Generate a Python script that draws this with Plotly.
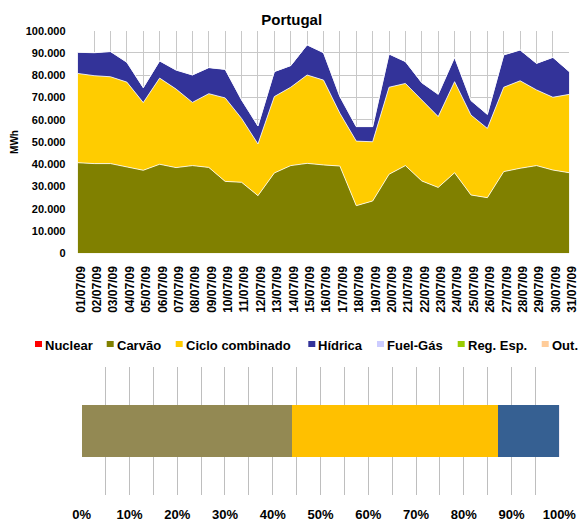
import plotly.graph_objects as go

# ---------------- data ----------------
dates = ["01/07/09", "02/07/09", "03/07/09", "04/07/09", "05/07/09", "06/07/09",
         "07/07/09", "08/07/09", "09/07/09", "10/07/09", "11/07/09", "12/07/09",
         "13/07/09", "14/07/09", "15/07/09", "16/07/09", "17/07/09", "18/07/09",
         "19/07/09", "20/07/09", "21/07/09", "22/07/09", "23/07/09", "24/07/09",
         "25/07/09", "26/07/09", "27/07/09", "28/07/09", "29/07/09", "30/07/09",
         "31/07/09"]

carvao = [40700, 40300, 40300, 38900, 37300, 40000, 38500, 39400, 38600, 32300,
          31900, 25900, 36100, 39400, 40400, 39700, 39200, 21400, 23500, 35500,
          39400, 32500, 29600, 36200, 26200, 25000, 36700, 38200, 39400, 37400,
          36200]

ciclo = [40100, 39500, 39000, 38000, 30400, 38700, 35300, 28400, 33100, 37500,
         28700, 23200, 34300, 35200, 39700, 38100, 23700, 29000, 26600, 39100,
         36900, 36400, 31800, 40900, 35900, 31100, 37900, 39300, 34000, 32700,
         35200]

hidrica = [9500, 10300, 11300, 8900, 6700, 7700, 8500, 12300, 11700, 12800,
           8300, 8100, 11200, 9700, 13500, 12300, 7500, 6500, 6800, 14900,
           9800, 7700, 10000, 10900, 6500, 6300, 14500, 13800, 11900, 17900,
           10200]

fuel_gas = [110, 95, 120, 80, 60, 100, 105, 90, 115, 130, 85, 70, 95, 110, 125,
            100, 75, 60, 65, 120, 110, 90, 85, 115, 70, 60, 130, 120, 100, 140, 95]

legend_names = ["Nuclear", "Carvão", "Ciclo combinado", "Hídrica", "Fuel-Gás",
                "Reg. Esp.", "Out."]

y_ticks = [0, 10000, 20000, 30000, 40000, 50000, 60000, 70000, 80000, 90000, 100000]
pct_ticks = [0, 10, 20, 30, 40, 50, 60, 70, 80, 90, 100]
pct_labels = ["0%", "10%", "20%", "30%", "40%", "50%", "60%", "70%", "80%",
              "90%", "100%"]

# ---------------- styles ----------------
W, H = 582, 524
FONT = "Liberation Sans, Arial, sans-serif"
area_colors = {"Carvão": "#808000", "Ciclo combinado": "#FFCC00",
               "Hídrica": "#333399", "Fuel-Gás": "#CCCCFF"}
legend_colors = ["#FF0000", "#808000", "#FFCC00", "#333399", "#CCCCFF",
                 "#99CC00", "#FFCC99"]
bar_colors = {"Carvão": "#938953", "Ciclo combinado": "#FFC000",
              "Hídrica": "#366092", "Fuel-Gás": "#CCC0DA"}
legend_x_px = [35, 106.7, 175.7, 308.3, 377, 457.7, 541.7]

def px_x(p):
    return p / W

def px_y(p):
    return 1 - p / H

fig = go.Figure()

series = [("Carvão", carvao), ("Ciclo combinado", ciclo),
          ("Hídrica", hidrica), ("Fuel-Gás", fuel_gas)]

for name, vals in series:
    fig.add_trace(go.Scatter(
        x=dates, y=vals, name=name, stackgroup="one", mode="lines",
        line=dict(color="white", width=0.8), fillcolor=area_colors[name],
        showlegend=False, xaxis="x", yaxis="y"))

for name, vals in series:
    fig.add_trace(go.Bar(
        x=[sum(vals)], y=[0], orientation="h", name=name,
        marker=dict(color=bar_colors[name], line=dict(width=0)),
        width=0.4, showlegend=False, xaxis="x2", yaxis="y2"))

grid = "#C8C8C8"

fig.update_layout(
    template="none",
    width=W, height=H, autosize=False,
    margin=dict(l=0, r=0, t=0, b=0),
    paper_bgcolor="white", plot_bgcolor="white",
    separators=",.",
    font=dict(family=FONT, color="black"),
    barmode="stack", barnorm="percent",
    showlegend=False,
    title=dict(text="Portugal", x=px_x(291.7), xanchor="center",
               y=px_y(20), yanchor="middle",
               font=dict(size=15, weight="bold", family=FONT)),
    xaxis=dict(domain=[px_x(77.7), px_x(569.3)], anchor="y", type="category",
               range=[0, 30], showgrid=True, gridcolor=grid, gridwidth=1.3,
               tickangle=-90, tickfont=dict(size=12, weight="bold"),
               ticks="outside", ticklen=7, tickcolor="rgba(0,0,0,0)",
               ticklabelshift=3, zeroline=False, showline=False,
               automargin=False),
    yaxis=dict(domain=[px_y(253.3), px_y(30.7)], anchor="x",
               range=[0, 100000], tickvals=y_ticks, tickformat=",.0f",
               showgrid=True, gridcolor=grid, gridwidth=1.3,
               tickfont=dict(size=11, weight="bold"),
               ticks="outside", ticklen=9, tickcolor="rgba(0,0,0,0)",
               zeroline=False, showline=False, automargin=False,
               title=dict(text="MWh", standoff=5,
                          font=dict(size=10, weight="bold"))),
    xaxis2=dict(domain=[px_x(81.7), px_x(559.3)], anchor="y2",
                range=[0, 100], tickvals=pct_ticks, ticktext=pct_labels,
                showgrid=True, gridcolor="#BEBEBE", gridwidth=1.2,
                minor=dict(dtick=5, showgrid=True, gridcolor="#BEBEBE",
                           gridwidth=1.2),
                tickfont=dict(size=13, weight="bold"),
                ticks="outside", ticklen=7, tickcolor="rgba(0,0,0,0)",
                zeroline=False, showline=False, automargin=False),
    yaxis2=dict(domain=[px_y(495), px_y(366.7)], anchor="x2",
                range=[-0.5, 0.5], showgrid=False, zeroline=False,
                showticklabels=False, ticks="", showline=False,
                automargin=False),
)

# custom legend: small squares + bold labels
for name, color, xp in zip(legend_names, legend_colors, legend_x_px):
    fig.add_shape(type="rect", xref="paper", yref="paper",
                  x0=px_x(xp), x1=px_x(xp + 7), y0=px_y(347), y1=px_y(341),
                  fillcolor=color, line=dict(width=0))
    fig.add_annotation(xref="paper", yref="paper", x=px_x(xp + 8),
                       y=px_y(345.5), xanchor="left", yanchor="middle",
                       text=name, showarrow=False,
                       font=dict(size=13, weight="bold", family=FONT))

fig.write_html("out.html", config={"displayModeBar": False},
               post_script="document.body.style.margin='0';")
